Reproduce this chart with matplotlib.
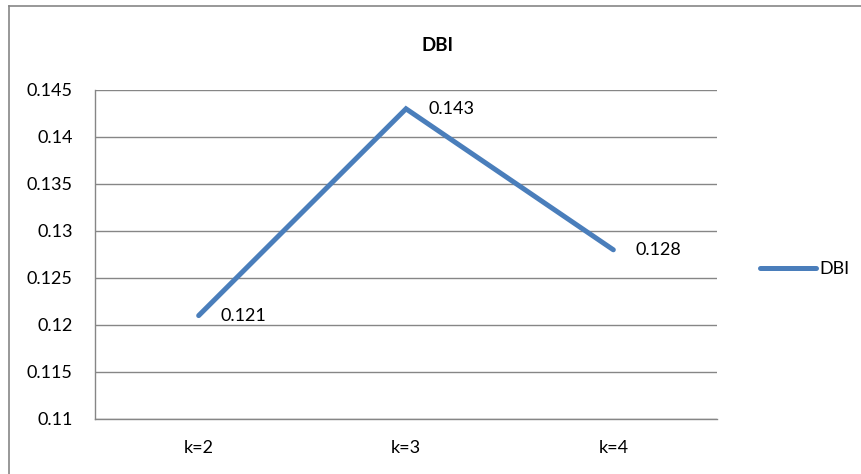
import matplotlib.pyplot as plt
from matplotlib.lines import Line2D

categories = ["k=2", "k=3", "k=4"]
dbi = [0.121, 0.143, 0.128]
yticks = [0.11, 0.115, 0.12, 0.125, 0.13, 0.135, 0.14, 0.145]

plt.rcParams["font.family"] = ["Lato", "DejaVu Sans"]

W, H = 861, 474
fig = plt.figure(figsize=(W / 100, H / 100), dpi=100)
ax = fig.add_axes([95 / W, 1 - 419 / H, (717 - 95) / W, (419 - 90) / H])

blue = "#4A7EBB"
grid = "#868686"

x = list(range(len(categories)))
ax.plot(x, dbi, color=blue, linewidth=3.6, solid_capstyle="round",
        solid_joinstyle="miter", label="DBI", zorder=3)
for xi, v in zip(x, dbi):
    ax.annotate(f"{v:.3f}", (xi, v), xytext=(16, 0), textcoords="offset points",
                ha="left", va="center", fontsize=13)

ax.set_xlim(-0.5, len(categories) - 0.5)
ax.set_ylim(0.11, 0.145)
ax.set_yticks(yticks)
ax.set_yticklabels([f"{t:g}" for t in yticks])
ax.set_xticks(x)
ax.set_xticklabels(categories)
ax.tick_params(length=0, labelsize=13)
ax.tick_params(axis="y", pad=16)
ax.tick_params(axis="x", pad=15)
ax.yaxis.grid(True, color=grid, linewidth=1)
ax.set_axisbelow(True)
for side in ["top", "right"]:
    ax.spines[side].set_visible(False)
for side in ["left", "bottom"]:
    ax.spines[side].set_color(grid)
    ax.spines[side].set_linewidth(1)

fig.text(437 / W, 1 - 45 / H, "DBI", ha="center", va="center",
         fontsize=13.5, fontweight="bold")

fig.legend(handles=[Line2D([], [], color=blue, linewidth=3.6,
                           solid_capstyle="round")],
           labels=["DBI"], loc="center left",
           bbox_to_anchor=(744 / W, 1 - 269 / H), frameon=False,
           fontsize=13, handlelength=3.1, handletextpad=0.15)

# outer chart border (left and top edges)
fig.add_artist(Line2D([9 / W, 9 / W], [0, 1 - 6 / H], color=grid, linewidth=1.2))
fig.add_artist(Line2D([9 / W, 1], [1 - 6 / H, 1 - 6 / H], color=grid, linewidth=1.2))

fig.savefig("out.png", dpi=100)
